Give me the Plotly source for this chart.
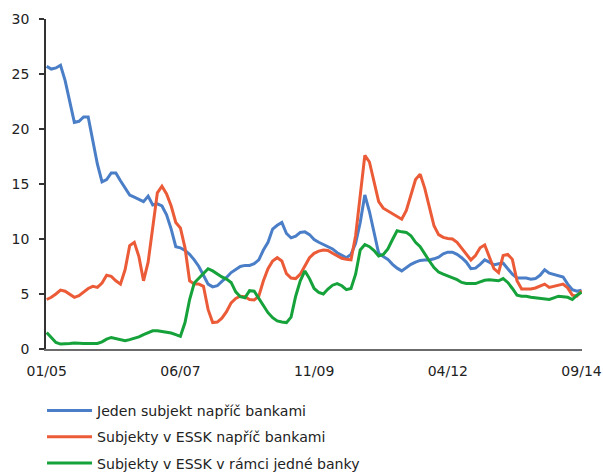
import plotly.graph_objects as go

months = [f"{(m % 12) + 1:02d}/{(5 + m // 12):02d}" for m in range(117)]
tick_labels = ["01/05", "06/07", "11/09", "04/12", "09/14"]

jeden_subjekt = [
    25.7, 25.45, 25.55, 25.8, 24.4, 22.5, 20.6, 20.7, 21.1, 21.1,
    19.0, 16.8, 15.2, 15.4, 16.0, 16.0, 15.3, 14.7, 14.0, 13.8,
    13.6, 13.4, 13.9, 13.1, 13.2, 13.0, 12.2, 10.9, 9.3, 9.2,
    8.95, 8.6, 8.1, 7.5, 6.7, 5.9, 5.65, 5.75, 6.15, 6.5,
    6.95, 7.2, 7.5, 7.6, 7.6, 7.75, 8.1, 9.0, 9.7, 10.9,
    11.25, 11.5, 10.5, 10.1, 10.25, 10.6, 10.65, 10.4, 9.95, 9.7,
    9.5, 9.35, 9.1, 8.75, 8.5, 8.3, 8.6, 9.6, 11.5, 14.0,
    12.5, 10.5, 8.7, 8.4, 8.15, 7.7, 7.35, 7.1, 7.4, 7.7,
    7.9, 8.05, 8.1, 8.1, 8.2, 8.35, 8.65, 8.8, 8.8, 8.6,
    8.3, 7.9, 7.3, 7.35, 7.7, 8.1, 7.9, 7.65, 7.75, 7.8,
    7.3, 6.8, 6.45, 6.45, 6.45, 6.35, 6.4, 6.7, 7.2, 6.9,
    6.8, 6.7, 6.55, 5.9, 5.4, 5.25, 5.35,
]

essk_napric = [
    4.5, 4.7, 5.0, 5.35, 5.25, 5.0, 4.7, 4.85, 5.2, 5.5,
    5.7, 5.6, 6.0, 6.7, 6.6, 6.2, 5.9, 7.2, 9.4, 9.7,
    8.4, 6.2, 7.9, 10.9, 14.2, 14.8, 14.1, 13.0, 11.5, 11.0,
    9.2, 6.2, 5.9, 5.9, 5.7, 3.6, 2.4, 2.45, 2.8, 3.4,
    4.2, 4.6, 4.8, 4.75, 4.5, 4.45, 4.8, 6.2, 7.3, 8.0,
    8.3, 8.0, 6.85, 6.45, 6.4, 6.8, 7.6, 8.3, 8.7, 8.9,
    9.0, 8.95, 8.7, 8.45, 8.25, 8.15, 8.1, 10.3, 14.0, 17.6,
    17.0, 15.3, 13.4, 12.8, 12.55, 12.3, 12.05, 11.8, 12.6, 14.0,
    15.4, 15.9, 14.6, 12.9, 11.2, 10.4, 10.15, 10.05, 10.0, 9.7,
    9.2, 8.7, 8.1, 8.5, 9.2, 9.45, 8.3, 7.3, 6.95, 8.5,
    8.6, 8.15, 6.2, 5.45, 5.45, 5.45, 5.55, 5.75, 5.9, 5.6,
    5.7, 5.85, 5.9, 5.55, 4.9, 4.8, 5.3,
]

essk_ramci = [
    1.5, 1.0, 0.6, 0.45, 0.45, 0.5, 0.55, 0.5, 0.5, 0.5,
    0.5, 0.5, 0.65, 0.9, 1.05, 0.95, 0.85, 0.75, 0.85, 0.95,
    1.1, 1.3, 1.5, 1.65, 1.65, 1.6, 1.55, 1.45, 1.3, 1.15,
    2.4, 4.5, 6.0, 6.45, 6.9, 7.3, 7.1, 6.8, 6.55, 6.35,
    6.05, 5.2, 4.75, 4.65, 5.3, 5.25, 4.6, 3.85, 3.3, 2.85,
    2.55, 2.45, 2.4, 2.9, 4.8, 6.2, 7.1, 6.4, 5.5, 5.15,
    5.0, 5.45, 5.8, 5.95, 5.75, 5.4, 5.5, 6.8, 9.0, 9.5,
    9.3, 8.95, 8.45, 8.6, 9.1, 9.95, 10.75, 10.65, 10.6, 10.3,
    9.7, 9.3, 8.6, 8.0, 7.4, 7.0, 6.8, 6.65, 6.5, 6.3,
    6.05, 5.95, 5.95, 5.95, 6.1, 6.25, 6.3, 6.25, 6.2, 6.4,
    6.05, 5.5, 4.9, 4.8, 4.8, 4.7, 4.65, 4.55, 4.5, 4.5,
    4.65, 4.8, 4.75, 4.7, 4.5, 4.9, 5.15,
]

series = [
    ("Jeden subjekt napříč bankami", jeden_subjekt, "#4A7EC7"),
    ("Subjekty v ESSK napříč bankami", essk_napric, "#EC5B37"),
    ("Subjekty v ESSK v rámci jedné banky", essk_ramci, "#16A23A"),
]

FONT = "DejaVu Sans"
fig = go.Figure()
for i, (name, vals, col) in enumerate(series):
    fig.add_trace(go.Scatter(
        x=months, y=vals, name=name, mode="lines",
        line=dict(color=col, width=3),
        legendgroup=f"g{i}",
    ))

fig.update_layout(
    width=603, height=475,
    margin=dict(l=46, r=21, t=19, b=126, autoexpand=False),
    paper_bgcolor="white", plot_bgcolor="white",
    font=dict(family=FONT, size=14, color="#222222"),
    showlegend=True,
    legend=dict(
        orientation="v", xref="container", yref="container",
        x=0.0697, xanchor="left", y=0.169, yanchor="top",
        font=dict(family=FONT, size=14.1, color="#222222"),
        tracegroupgap=5, itemwidth=45, bgcolor="rgba(0,0,0,0)",
    ),
)
fig.update_xaxes(
    type="category", range=[-0.15, 116.1],
    tickmode="array", tickvals=tick_labels, ticktext=tick_labels,
    showline=True, linecolor="#6b6b6b", linewidth=2,
    ticks="", showgrid=False, zeroline=False,
    ticklabelstandoff=8,
)
fig.update_yaxes(
    range=[0, 30], dtick=5, tick0=0,
    showline=True, linecolor="#333333", linewidth=1.5,
    ticks="outside", ticklen=5, tickcolor="#333333", tickwidth=1.5,
    showgrid=False, zeroline=False,
    ticklabelstandoff=7,
)

fig.write_html("out.html")
